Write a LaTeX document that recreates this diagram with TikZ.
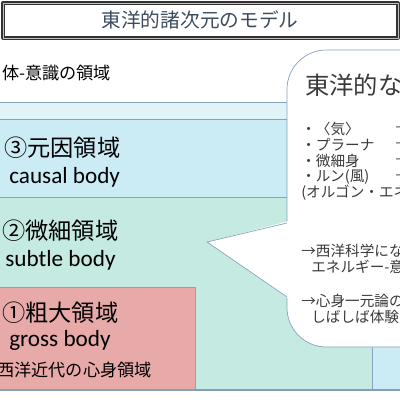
\documentclass[tikz,border=0pt]{standalone}
\usepackage{fontspec}
\setmainfont{Carlito}
\newfontfamily\jp{Noto Sans CJK JP}
\definecolor{edgeblue}{HTML}{86A3BE}
\definecolor{bandcyan}{HTML}{E2F3F8}
\definecolor{causalcyan}{HTML}{CCECF5}
\definecolor{subtlegreen}{HTML}{C5EAE2}
\definecolor{grosspink}{HTML}{E8A9A9}
\definecolor{titleink}{HTML}{3D4B5E}
\definecolor{boxink}{HTML}{3A3A3A}
\begin{document}
\begin{tikzpicture}[x=0.25mm, y=-0.25mm, line join=round, inner sep=0pt,
    layer/.style={draw=edgeblue, line width=0.5pt},
    bigjp/.style={anchor=west, font=\jp\fontsize{16.5}{18}\selectfont},
    bigen/.style={anchor=west, font=\fontsize{16.5}{18}\selectfont},
    small/.style={anchor=west, text=boxink, font=\jp\fontsize{10.4}{12}\selectfont}]
  \useasboundingbox (0,0) rectangle (400,400);
  \clip (0,0) rectangle (400,400);
  % nested regions
  \fill[bandcyan] (-10,102) rectangle (460,390);
  \draw[layer] (-10,102) -- (460,102);
  \filldraw[layer, fill=causalcyan] (-10,119) rectangle (460,390);
  \filldraw[layer, fill=subtlegreen] (-10,197) rectangle (372,390);
  \filldraw[layer, fill=grosspink] (-10,287) rectangle (195,390);
  \draw[draw=edgeblue!90!gray, line width=1.3pt] (-10,390) -- (460,390);
  % title
  \draw[draw=black!80, double=gray!50, double distance=0.5pt, line width=0.9pt] (3,3) rectangle (398,38);
  \node (title) at (200,20) {\color{titleink}\jp\fontsize{14}{16}\selectfont 東洋的諸次元のモデル};
  \node[anchor=west] (mind) at (2,73) {\jp\fontsize{12.2}{14}\selectfont 体-意識の領域};
  % left labels
  \node[bigjp] (causalJ) at (4,148) {③元因領域};
  \node[bigen] (causalE) at (9,177) {causal body};
  \node[bigjp] (subtleJ) at (2,231) {②微細領域};
  \node[bigen] (subtleE) at (5,260) {subtle body};
  \node[bigjp] (grossJ) at (2,313) {①粗大領域};
  \node[bigen] (grossE) at (9,340) {gross body};
  \node[anchor=west] (west) at (-3,370) {\jp\fontsize{12.2}{14}\selectfont 西洋近代の心身領域};
  % callout
  \filldraw[draw=edgeblue, line width=0.5pt, fill=white, rounded corners=28] (287,50) rectangle (470,347);
  \fill[white] (289,221) -- (207,242) -- (289,299) -- cycle;
  \draw[draw=edgeblue, line width=0.5pt] (287,223) -- (207,242) -- (287,297);
  \node[anchor=west, text=boxink] (eastT) at (305,85) {\jp\fontsize{17.3}{19}\selectfont 東洋的な};
  \node[small] (ki) at (301,129) {・〈気〉};
  \node[small] (prana) at (301,145) {・プラーナ};
  \node[small] (bisai) at (301,161) {・微細身};
  \node[small] (lung) at (301,177) {・ルン(風)};
  \node[small] (orgon) at (301,193) {(オルゴン・エネ};
  \foreach \yy in {129,145,161,177}
    \node[small] at (395,\yy) {–};
  \node[small] (sci1) at (301,251) {→西洋科学にな};
  \node[small] (sci2) at (311,267) {エネルギー-意};
  \node[small] (mon1) at (301,301) {→心身一元論の};
  \node[small] (mon2) at (311,317) {しばしば体験};
\end{tikzpicture}
\end{document}
